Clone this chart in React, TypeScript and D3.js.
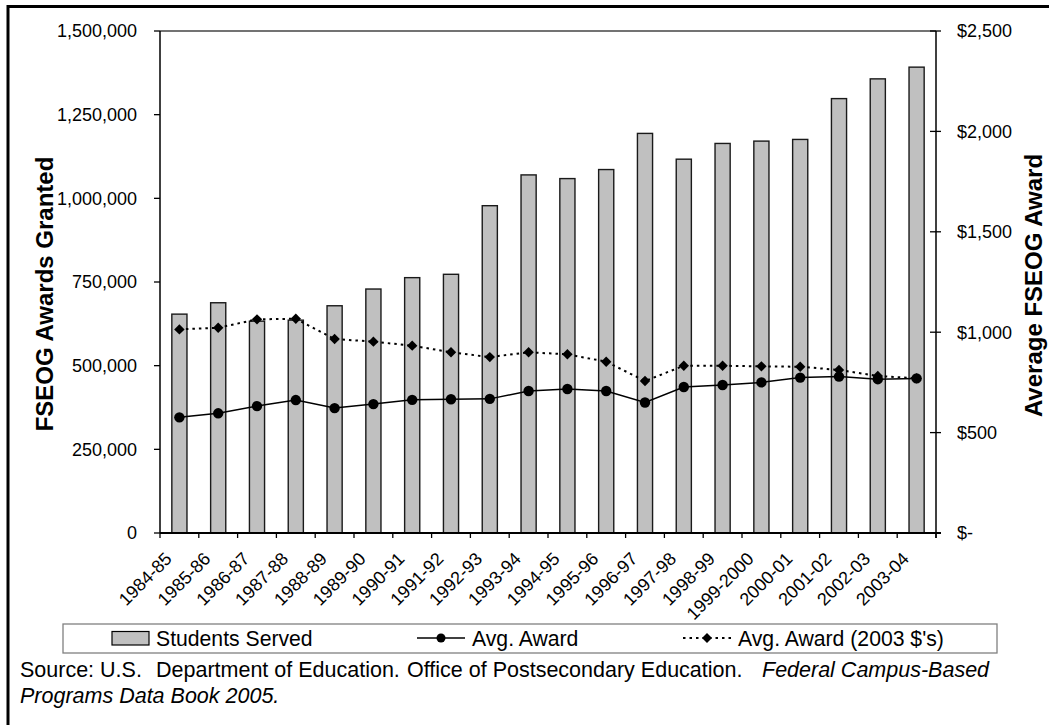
import React from "react";
import * as d3 from "d3";

const categories = [
  "1984-85", "1985-86", "1986-87", "1987-88", "1988-89", "1989-90", "1990-91",
  "1991-92", "1992-93", "1993-94", "1994-95", "1995-96", "1996-97", "1997-98",
  "1998-99", "1999-2000", "2000-01", "2001-02", "2002-03", "2003-04",
];
const studentsServed = [
  654000, 688000, 633000, 636000, 679000, 729000, 763000, 773000, 978000, 1070000,
  1059000, 1086000, 1194000, 1117000, 1164000, 1171000, 1176000, 1298000, 1357000, 1392000,
];
const avgAward = [
  576, 596, 632, 662, 622, 642, 663, 666, 668, 707,
  717, 707, 650, 727, 737, 750, 774, 779, 766, 770,
];
const avgAward2003 = [
  1014, 1022, 1064, 1067, 966, 953, 933, 900, 876, 900,
  890, 853, 757, 833, 833, 830, 828, 812, 782, 770,
];
const leftTickValues = [0, 250000, 500000, 750000, 1000000, 1250000, 1500000];
const leftTickLabels = ["0", "250,000", "500,000", "750,000", "1,000,000", "1,250,000", "1,500,000"];
const rightTickValues = [0, 500, 1000, 1500, 2000, 2500];
const rightTickLabels = ["$-", "$500", "$1,000", "$1,500", "$2,000", "$2,500"];
const legendLabels = ["Students Served", "Avg. Award", "Avg. Award (2003 $'s)"];

const FONT = "'Liberation Sans', Arial, Helvetica, sans-serif";

export default function App() {
  const W = 1049, H = 725;
  const L = 160, R = 936, T = 31, B = 533;
  const x = d3.scaleBand<string>().domain(categories).range([L, R]).padding(0);
  const yL = d3.scaleLinear().domain([0, 1500000]).range([B, T]);
  const yR = d3.scaleLinear().domain([0, 2500]).range([B, T]);
  const bw = x.bandwidth();
  const barW = bw * 0.39;
  const cx = (c: string) => (x(c) as number) + bw / 2;

  const lineGen = d3.line<number>().x((_, i) => cx(categories[i])).y((d) => yR(d));
  const diamond = (px: number, py: number, s: number) =>
    `M${px},${py - s}L${px + s},${py}L${px},${py + s}L${px - s},${py}Z`;

  const boundaries = d3.range(categories.length + 1).map((i) => L + i * bw);

  return (
    <svg width={W} height={H} style={{ position: "absolute", left: 0, top: 0, display: "block", background: "#fff" }}
      fontFamily={FONT}>
      <rect x={0} y={0} width={W} height={H} fill="#fff" />
      <rect x={8} y={6.5} width={1100} height={800} fill="none" stroke="#000" strokeWidth={3} />

      {/* bars */}
      {studentsServed.map((v, i) => (
        <rect key={"b" + i} x={cx(categories[i]) - barW / 2} y={yL(v)} width={barW} height={B - yL(v)}
          fill="#c0c0c0" stroke="#1a1a1a" strokeWidth={1.4} />
      ))}

      {/* plot frame */}
      <line x1={L} x2={R} y1={T} y2={T} stroke="#444" strokeWidth={1.3} />
      <line x1={L} x2={L} y1={T} y2={B} stroke="#000" strokeWidth={1.5} />
      <line x1={R} x2={R} y1={T} y2={B + 5} stroke="#000" strokeWidth={1.5} />
      <line x1={L} x2={R + 5} y1={B} y2={B} stroke="#000" strokeWidth={2} />

      {/* left ticks */}
      {leftTickValues.map((v, i) => (
        <g key={"lt" + i}>
          <line x1={L - 6} x2={L} y1={yL(v)} y2={yL(v)} stroke="#000" strokeWidth={1.3} />
          <text x={137} y={yL(v)} dy="0.36em" textAnchor="end" fontSize={18} fill="#000">{leftTickLabels[i]}</text>
        </g>
      ))}
      {/* right ticks */}
      {rightTickValues.map((v, i) => (
        <g key={"rt" + i}>
          <line x1={R - 6} x2={R + 5} y1={yR(v)} y2={yR(v)} stroke="#000" strokeWidth={1.3} />
          <text x={957} y={yR(v)} dy="0.36em" textAnchor="start" fontSize={18} fill="#000">{rightTickLabels[i]}</text>
        </g>
      ))}
      {/* bottom ticks */}
      {boundaries.map((bx, i) => (
        <line key={"bt" + i} x1={bx} x2={bx} y1={B} y2={B + 5} stroke="#000" strokeWidth={1.3} />
      ))}
      {categories.map((c) => (
        <text key={"xl" + c} transform={`translate(${cx(c) - 6.5},${560}) rotate(-45)`} textAnchor="end"
          fontSize={18} fill="#000">{c}</text>
      ))}

      {/* lines */}
      <path d={lineGen(avgAward) || ""} fill="none" stroke="#000" strokeWidth={1.5} />
      {avgAward.map((v, i) => (
        <circle key={"c" + i} cx={cx(categories[i])} cy={yR(v)} r={5.2} fill="#000" />
      ))}
      <path d={lineGen(avgAward2003) || ""} fill="none" stroke="#000" strokeWidth={2} strokeDasharray="2.5,4" />
      {avgAward2003.map((v, i) => (
        <path key={"d" + i} d={diamond(cx(categories[i]), yR(v), 5.2)} fill="#000" />
      ))}

      {/* axis titles */}
      <text transform="translate(53,294) rotate(-90)" textAnchor="middle" fontSize={24} fontWeight="bold" fill="#000">
        FSEOG Awards Granted
      </text>
      <text transform="translate(1042,285.5) rotate(-90)" textAnchor="middle" fontSize={24} fontWeight="bold" fill="#000">
        Average FSEOG Award
      </text>

      {/* legend */}
      <rect x={63} y={624} width={934} height={29} fill="#fff" stroke="#808080" strokeWidth={1.3} />
      <rect x={112} y={631.5} width={37} height={13.5} fill="#c0c0c0" stroke="#000" strokeWidth={1.2} />
      <text x={156} y={646} fontSize={21.2} fill="#000">{legendLabels[0]}</text>
      <line x1={417} x2={465} y1={638} y2={638} stroke="#000" strokeWidth={1.5} />
      <circle cx={441} cy={638} r={4.5} fill="#000" />
      <text x={472} y={646} fontSize={21.2} fill="#000">{legendLabels[1]}</text>
      <line x1={683} x2={731} y1={638} y2={638} stroke="#000" strokeWidth={2} strokeDasharray="2.5,4" />
      <path d={diamond(707, 638, 5)} fill="#000" />
      <text x={738} y={646} fontSize={21.2} fill="#000">{legendLabels[2]}</text>

      {/* source */}
      <text y={677} fontSize={21.5} fill="#000">
        <tspan x={20}>Source: U.S.</tspan>
        <tspan x={156}>Department of Education.</tspan>
        <tspan x={407}>Office of Postsecondary Education.</tspan>
        <tspan x={762} fontStyle="italic">Federal Campus-Based</tspan>
      </text>
      <text x={20} y={703} fontSize={21.5} fill="#000" fontStyle="italic">
        Programs Data Book 2005.
      </text>
    </svg>
  );
}
